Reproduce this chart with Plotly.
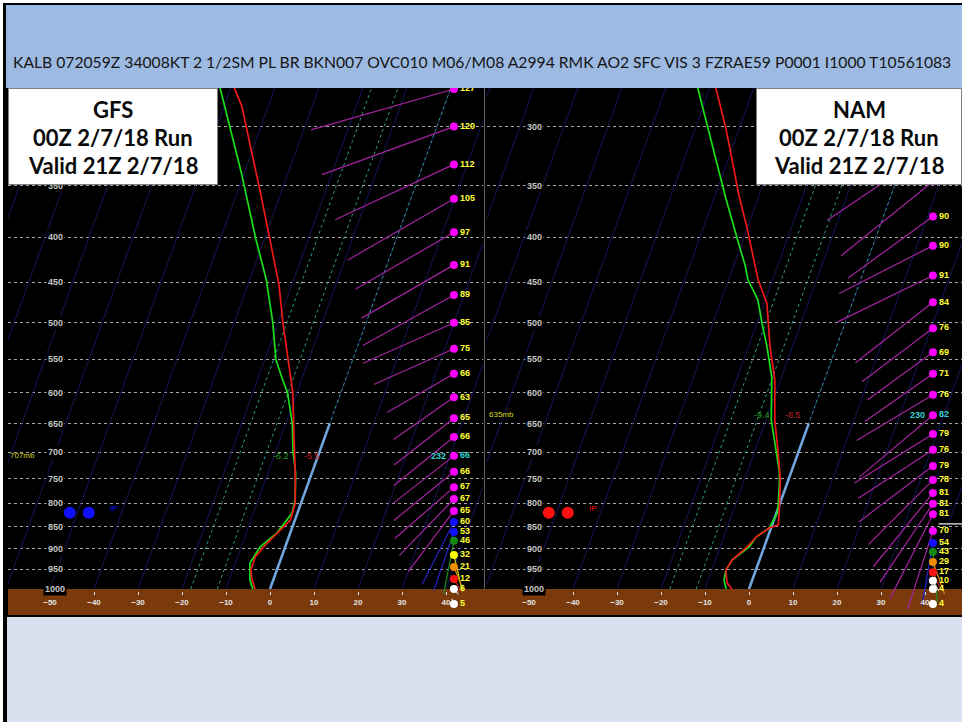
import math
import plotly.graph_objects as go

# ---------------- text ----------------
METAR = ("KALB 072059Z 34008KT 2 1/2SM PL BR BKN007 OVC010 M06/M08 A2994 RMK AO2 "
         "SFC VIS 3 FZRAE59 P0001 I1000 T10561083")
GFS_BOX = ["GFS", "00Z 2/7/18 Run", "Valid 21Z 2/7/18"]
NAM_BOX = ["NAM", "00Z 2/7/18 Run", "Valid 21Z 2/7/18"]

# ---------------- chart grid values ----------------
ISOBARS = list(range(300, 1001, 50))
TEMP_TICKS = list(range(-50, 41, 10))
ISOTHERMS = list(range(-110, 51, 10))
DGZ_LINES = [-18, -12, 0]          # dotted teal isotherms
ZERO_SEG_P = [1000, 650]            # light-blue 0C segment

# ---------------- GFS sounding ----------------
GFS_T_P = [271, 284, 359, 453, 500, 550, 600, 650, 700, 750, 800, 836, 858, 892, 920, 952, 977, 1000]
GFS_T = [-49.3, -46.1, -34.3, -22.9, -18.9, -14.7, -10.9, -8.2, -5.6, -3.3, -1.3, -1.0, -2.5, -4.7, -6.0, -5.9, -4.8, -3.4]
GFS_TD_P = [271, 338, 403, 447, 500, 550, 580, 600, 650, 700, 739, 793, 820, 864, 896, 935, 977, 1000]
GFS_TD = [-52.5, -40.7, -31.8, -26.2, -21.2, -17.5, -14.3, -12.1, -8.5, -6.0, -3.7, -1.6, -1.2, -3.0, -5.7, -6.7, -5.3, -3.9]
GFS_W_P = [272, 300, 331, 362, 395, 430, 465, 500, 535, 571, 607, 641, 673, 707, 737, 767, 791, 816, 840, 862, 882, 915, 944, 974, 1000, 1040]
GFS_W_SPD = [127, 120, 112, 105, 97, 91, 89, 85, 75, 66, 63, 65, 66, 66, 66, 67, 67, 65, 60, 53, 46, 32, 21, 12, 6, 5]
GFS_W_DIR = [254, 250, 245, 240, 240, 240, 241, 246, 246, 240, 235, 232, 231, 232, 231, 229, 224, 217, 207, 199, 191, 167, 158, 150, 140, 340]
GFS_MARK_P, GFS_MARK_TD, GFS_MARK_T, GFS_MARK_DIR = 707, -6.2, -5.5, 232

# ---------------- NAM sounding ----------------
NAM_T_P = [271, 301, 320, 358, 391, 438, 447, 475, 532, 580, 644, 702, 753, 820, 846, 853, 873, 896, 927, 952, 984, 1000]
NAM_T = [-48.7, -43.1, -40.1, -34.7, -30.0, -24.2, -23.3, -19.4, -15.1, -11.3, -8.0, -4.5, -1.8, 0.6, 1.4, -0.4, -2.6, -3.9, -6.2, -6.8, -5.5, -3.9]
NAM_TD_P = [271, 361, 401, 430, 447, 471, 500, 532, 576, 600, 644, 702, 734, 753, 779, 799, 820, 853, 873, 896, 927, 952, 977, 1000]
NAM_TD = [-52.8, -37.4, -31.5, -27.5, -25.6, -21.7, -18.9, -15.8, -12.2, -11.0, -8.8, -4.9, -2.9, -2.0, -1.0, -0.4, 0.2, -0.4, -2.6, -3.4, -6.2, -6.8, -6.4, -5.2]
NAM_W_P = [318, 346, 379, 409, 442, 474, 507, 540, 571, 603, 636, 668, 696, 726, 753, 779, 801, 823, 860, 887, 908, 932, 957, 979, 1000, 1040]
NAM_W_SPD = [109, 101, 90, 90, 91, 84, 76, 69, 71, 76, 82, 79, 76, 79, 78, 81, 81, 81, 70, 54, 43, 29, 17, 10, 4, 4]
NAM_W_DIR = [236, 231, 234, 243, 244, 232, 233, 234, 235, 239, 230, 238, 237, 233, 225, 219, 214, 207, 198, 190, 175, 160, 155, 150, 140, 340]
NAM_MARK_P, NAM_MARK_TD, NAM_MARK_T, NAM_MARK_DIR = 635, -9.4, -8.5, 230
NAM_SIDE_MARK_P = 844               # short grey level marker at right edge

# precipitation-type indicator
PTYPE_P = 820
PTYPE_LABEL = "IP"

# ---------------- geometry / style ----------------
FIG_W, FIG_H = 962, 722
PANEL_TOP, PANEL_BOT = 88, 615
LEFT_PX = (8, 483)
RIGHT_PX = (487, 962)
P_TOP, P_BOT = 271.3, 1070.0
X_MIN, X_MAX = -59.55, 48.41
SKEW = 31.5
WIND_X = 41.8
KT_PX = 1.17

PX_PER_X = (LEFT_PX[1] - LEFT_PX[0]) / (X_MAX - X_MIN)
PX_PER_LN = (PANEL_BOT - PANEL_TOP) / math.log(P_BOT / P_TOP)

BROWN = "#7a3a0c"
NARROW = "Liberation Sans Narrow, Arial Narrow, sans-serif"


def py(px):
    return 1 - px / FIG_H


def pxx(px):
    return px / FIG_W


def skx(t, p):
    return t + SKEW * math.log(1000.0 / p)


def spd_color(s):
    if s >= 63:
        return "#ff00ff", "#a3249f"
    if s >= 50:
        return "#1010ff", "#2424c8"
    if s >= 40:
        return "#128a12", "#1c8c1c"
    if s >= 30:
        return "#ffff00", "#d8d800"
    if s >= 20:
        return "#f08c00", "#e08a10"
    if s > 10:
        return "#ff1010", "#d01818"
    return "#ffffff", "#d0d0d0"


fig = go.Figure()
annotations = []


def add_panel(xa, ya, t_p, t, td_p, td, w_p, w_spd, w_dir,
              mark_p, mark_td, mark_t, mark_dir, ptype_color, side_mark_p=None):
    xref, yref = xa, ya
    common = dict(xaxis=xa, yaxis=ya, showlegend=False, hoverinfo="skip")
    # isotherms
    xs, ys = [], []
    for T in ISOTHERMS:
        xs += [skx(T, P_BOT), skx(T, P_TOP), None]
        ys += [P_BOT, P_TOP, None]
    fig.add_trace(go.Scatter(x=xs, y=ys, mode="lines",
                             line=dict(color="#16165a", width=1), **common))
    # dotted DGZ / freezing isotherms
    xs, ys = [], []
    for T in DGZ_LINES:
        xs += [skx(T, 1000), skx(T, P_TOP), None]
        ys += [1000, P_TOP, None]
    fig.add_trace(go.Scatter(x=xs, y=ys, mode="lines",
                             line=dict(color="#2f9a86", width=1, dash="dot"), **common))
    # highlighted 0C segment
    fig.add_trace(go.Scatter(x=[skx(0, p) for p in ZERO_SEG_P], y=ZERO_SEG_P, mode="lines",
                             line=dict(color="#6fa6dc", width=2.6), **common))
    # ground strip
    fig.add_trace(go.Scatter(x=[X_MIN - 5, X_MAX + 5, X_MAX + 5, X_MIN - 5, X_MIN - 5],
                             y=[1000, 1000, P_BOT * 1.05, P_BOT * 1.05, 1000],
                             mode="lines", fill="toself", fillcolor=BROWN,
                             line=dict(width=0, color=BROWN), **common))
    # dew point and temperature
    fig.add_trace(go.Scatter(x=[skx(a, p) for a, p in zip(td, td_p)], y=td_p, mode="lines",
                             line=dict(color="#18e018", width=1.7), **common))
    fig.add_trace(go.Scatter(x=[skx(a, p) for a, p in zip(t, t_p)], y=t_p, mode="lines",
                             line=dict(color="#f01818", width=1.7), **common))
    # wind vectors grouped by colour
    groups = {}
    for p, s, d in zip(w_p, w_spd, w_dir):
        _, lc = spd_color(s)
        L = KT_PX * s
        th = math.radians(270 - d)
        x_end = WIND_X - L * math.cos(th) / PX_PER_X
        p_end = p * math.exp(L * math.sin(th) / PX_PER_LN)
        g = groups.setdefault(lc, ([], []))
        g[0].extend([WIND_X, x_end, None])
        g[1].extend([p, p_end, None])
    for lc, (xs, ys) in groups.items():
        fig.add_trace(go.Scatter(x=xs, y=ys, mode="lines",
                                 line=dict(color=lc, width=1.2), **common))
    if side_mark_p is not None:
        fig.add_trace(go.Scatter(x=[WIND_X + 1.3, X_MAX + 1], y=[side_mark_p, side_mark_p],
                                 mode="lines", line=dict(color="#bdbdbd", width=1.6), **common))
    # wind dots + speed labels
    mi = min(range(len(w_p)), key=lambda i: abs(w_p[i] - mark_p))
    tcol = ["#33d0d0" if i == mi else "#ffff33" for i in range(len(w_p))]
    fig.add_trace(go.Scatter(x=[WIND_X] * len(w_p), y=w_p, mode="markers+text",
                             marker=dict(color=[spd_color(s)[0] for s in w_spd], size=8,
                                         line=dict(width=0)),
                             text=[str(s) for s in w_spd], textposition="middle right",
                             textfont=dict(color=tcol, size=9, family=NARROW, weight="bold"),
                             cliponaxis=True, **common))
    # precipitation-type dots
    fig.add_trace(go.Scatter(x=[-45.5, -41.2], y=[PTYPE_P, PTYPE_P], mode="markers",
                             marker=dict(color=ptype_color, size=12), **common))
    annotations.append(dict(x=-36.8, y=math.log10(PTYPE_P * 0.99), xref=xref, yref=yref,
                            text=PTYPE_LABEL, showarrow=False, xanchor="left",
                            font=dict(color=ptype_color, size=8, family=NARROW)))
    # pressure labels
    for p in ISOBARS:
        annotations.append(dict(x=-48.8, y=math.log10(p), xref=xref, yref=yref,
                                text="<b>%d</b>" % p, showarrow=False, bgcolor="#000000",
                                borderpad=1,
                                font=dict(color="#c4c4c4", size=9, family=NARROW)))
    # marked level labels
    annotations.append(dict(x=X_MIN + 0.1, y=math.log10(mark_p), xref=xref, yref=yref,
                            text="%dmb" % mark_p, showarrow=False, xanchor="left",
                            font=dict(color="#d8d820", size=8, family=NARROW)))
    xl = skx(mark_t, mark_p)
    annotations.append(dict(x=xl, y=math.log10(mark_p), xref=xref, yref=yref, xshift=-3,
                            text="%.1f" % mark_td, showarrow=False, xanchor="right",
                            font=dict(color="#22a022", size=9, family=NARROW)))
    annotations.append(dict(x=xl, y=math.log10(mark_p), xref=xref, yref=yref, xshift=8,
                            text="%.1f" % mark_t, showarrow=False, xanchor="left",
                            font=dict(color="#c02020", size=9, family=NARROW)))
    annotations.append(dict(x=WIND_X, y=math.log10(w_p[mi]), xref=xref, yref=yref, xshift=-6,
                            text="<b>%d</b>" % mark_dir, showarrow=False, xanchor="right",
                            font=dict(color="#33d0d0", size=9, family=NARROW)))


add_panel("x", "y", GFS_T_P, GFS_T, GFS_TD_P, GFS_TD, GFS_W_P, GFS_W_SPD, GFS_W_DIR,
          GFS_MARK_P, GFS_MARK_TD, GFS_MARK_T, GFS_MARK_DIR, "#1010ff")
add_panel("x2", "y2", NAM_T_P, NAM_T, NAM_TD_P, NAM_TD, NAM_W_P, NAM_W_SPD, NAM_W_DIR,
          NAM_MARK_P, NAM_MARK_TD, NAM_MARK_T, NAM_MARK_DIR, "#ff1010", NAM_SIDE_MARK_P)


# model title boxes
def add_box(x0, x1, y0, y1, lines):
    cx = pxx((x0 + x1) / 2)
    annotations.append(dict(x=cx, y=py((y0 + y1) / 2), xref="paper", yref="paper",
                            xanchor="center", yanchor="middle",
                            text=" ", showarrow=False, width=x1 - x0 - 2, height=y1 - y0 - 2,
                            bgcolor="#ffffff", bordercolor="#808080", borderwidth=1, borderpad=0))
    for i, ln in enumerate(lines):
        yc = py(y0 + 22 + 27.5 * i)
        annotations.append(dict(x=cx, y=yc, xref="paper", yref="paper",
                                xanchor="center", yanchor="middle",
                                text="<b>%s</b>" % ln, showarrow=False,
                                font=dict(color="#0a0a0a", size=22, family="Lato, sans-serif")))


add_box(8, 218, 88, 185, GFS_BOX)
add_box(756, 962, 88, 185, NAM_BOX)

annotations.append(dict(x=pxx(482.5), y=py(62), xref="paper", yref="paper", text=METAR,
                        showarrow=False, xanchor="center", yanchor="middle",
                        font=dict(color="#151515", size=15.7, family="Lato, sans-serif")))

shapes = [
    dict(type="rect", xref="paper", yref="paper", x0=pxx(3), x1=1, y0=0, y1=py(3),
         fillcolor="#000000", line=dict(width=0), layer="below"),
    dict(type="rect", xref="paper", yref="paper", x0=pxx(6), x1=1, y0=py(88), y1=py(5),
         fillcolor="#9dbae3", line=dict(width=0), layer="below"),
    dict(type="rect", xref="paper", yref="paper", x0=pxx(7), x1=1, y0=0, y1=py(617),
         fillcolor="#d9e1f1", line=dict(width=0), layer="below"),
    dict(type="rect", xref="paper", yref="paper", x0=pxx(483), x1=pxx(487), y0=py(615), y1=py(589),
         fillcolor=BROWN, line=dict(width=0), layer="below"),
    dict(type="line", xref="paper", yref="paper", x0=pxx(484.5), x1=pxx(484.5), y0=py(589), y1=py(88),
         line=dict(color="#606060", width=1), layer="below"),
]

xaxis_common = dict(range=[X_MIN, X_MAX], showgrid=False, zeroline=False, showline=False,
                    tickvals=TEMP_TICKS, ticks="outside", ticklen=3, tickcolor="#e0e0e0",
                    tickfont=dict(color="#e4e4e4", size=8, family=NARROW, weight="bold"),
                    anchor="free", position=py(591), fixedrange=True)
yaxis_common = dict(type="log", range=[math.log10(P_BOT), math.log10(P_TOP)],
                    domain=[py(PANEL_BOT), py(PANEL_TOP)], tickvals=ISOBARS,
                    showticklabels=False, ticks="", showgrid=True, gridcolor="#a8a8a8",
                    griddash="3px,3px", gridwidth=1, zeroline=False, showline=False,
                    fixedrange=True)

fig.update_layout(
    width=FIG_W, height=FIG_H, margin=dict(l=0, r=0, t=0, b=0),
    paper_bgcolor="#ffffff", plot_bgcolor="#000000", showlegend=False,
    xaxis=dict(domain=[pxx(LEFT_PX[0]), pxx(LEFT_PX[1])], **xaxis_common),
    xaxis2=dict(domain=[pxx(RIGHT_PX[0]), pxx(RIGHT_PX[1])], **xaxis_common),
    yaxis=dict(anchor="x", **yaxis_common),
    yaxis2=dict(anchor="x2", **yaxis_common),
    annotations=annotations, shapes=shapes,
)

fig.write_html("out.html", config={"displayModeBar": False},
               post_script="document.body.style.margin='0';document.body.style.overflow='hidden';")
